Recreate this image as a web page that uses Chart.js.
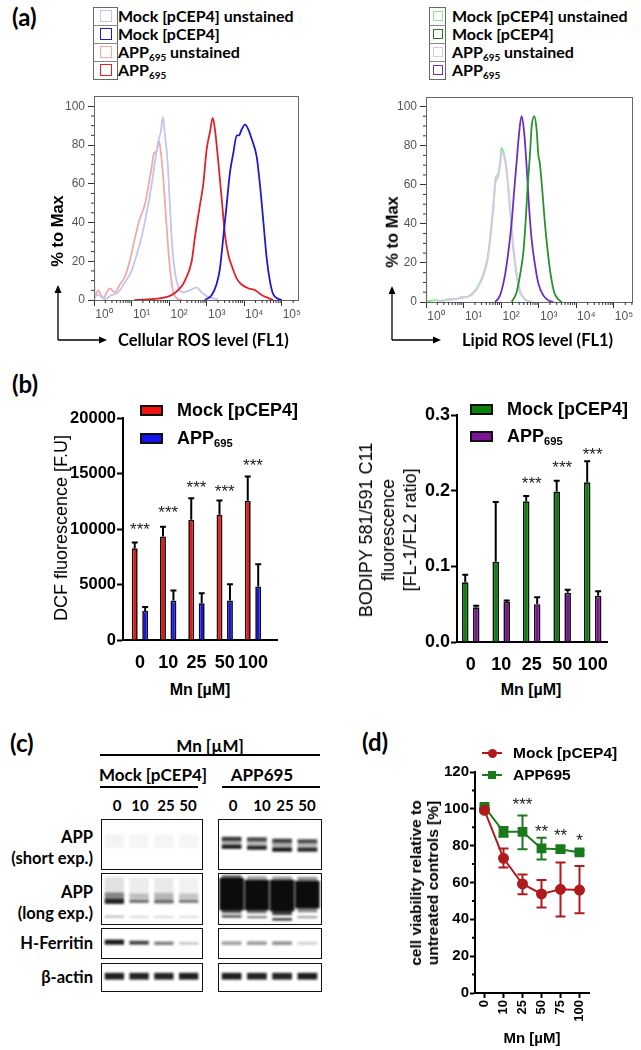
<!DOCTYPE html>
<html>
<head>
<meta charset="utf-8">
<title>ROS, lipid peroxidation and viability: Mock vs APP695</title>
<script src="https://cdn.jsdelivr.net/npm/chart.js@4.4.1/dist/chart.umd.min.js"></script>
<style>
  html, body { margin: 0; background: #fff; }
  #fig { position: relative; width: 641px; height: 1050px; overflow: hidden; font-family: "Liberation Sans", Arial, sans-serif; color: #000; }
  #fig canvas { position: absolute; }
  .t { position: absolute; white-space: nowrap; line-height: 1; }
  .cal { font-family: Lato, "Liberation Sans", sans-serif; font-weight: 700; }
  .b { font-weight: 700; }
  .t sub { font-size: 62%; vertical-align: -0.3em; line-height: 0; }
  .blot { position: absolute; border: 1.5px solid #111; box-sizing: border-box; overflow: hidden; }
  .blot canvas { left: 0; top: 0; filter: blur(1.2px); }
  .sw { position: absolute; box-sizing: border-box; }
</style>
</head>
<body>
<div id="fig"></div>
<script>
// ---------- (a) flow histograms: x in log10 decades, y in % to max ----------
const decadeLabels = ["10⁰", "10¹", "10²", "10³", "10⁴", "10⁵"];
const pctTicks = [0, 20, 40, 60, 80, 100];

const rosMockStX = [2.95, 3.13, 3.26, 3.35, 3.44, 3.53, 3.62, 3.71, 3.80, 3.86, 3.93, 4.02, 4.11, 4.20, 4.33, 4.42, 4.51, 4.60, 4.69, 4.77, 4.91, 5.0];
const rosMockStY = [0, 2.5, 8, 16, 32, 49, 66, 76, 85, 85, 88, 90.5, 88, 83, 74, 59, 40, 21, 9, 3, 0.5, 0];
const rosAppStX = [1.08, 1.97, 2.33, 2.42, 2.6, 2.69, 2.82, 2.91, 3.0, 3.09, 3.16, 3.22, 3.31, 3.40, 3.49, 3.58, 3.66, 3.80, 3.93, 4.11, 4.29, 4.47, 4.64, 4.77];
const rosAppStY = [0, 1.7, 7, 10, 20, 33, 49, 60, 78, 87, 94, 88, 71, 52, 33, 23, 18, 11, 8, 6, 5, 2.5, 1, 0];
const rosMockUnX = [0, 0.11, 0.29, 0.46, 0.64, 0.82, 1.0, 1.13, 1.26, 1.35, 1.44, 1.53, 1.62, 1.71, 1.78, 1.83, 1.88, 1.96, 2.02, 2.08, 2.15, 2.24, 2.37, 2.55, 2.73, 2.86, 3.0, 3.31];
const rosMockUnY = [2, 2.5, 0.5, 2.5, 4, 9, 15, 23, 32, 40, 49, 59, 71, 82, 87, 94.5, 87, 71, 49, 28, 15, 7, 4, 5, 6.5, 4, 2, 0.3];
const rosAppUnX = [0, 0.01, 0.11, 0.24, 0.42, 0.55, 0.69, 0.82, 0.95, 1.09, 1.22, 1.35, 1.44, 1.53, 1.60, 1.66, 1.73, 1.78, 1.84, 1.90, 1.97, 2.04, 2.11, 2.2, 2.33];
const rosAppUnY = [105, 1, 5, 1, 6, 4, 8, 12, 20, 32, 42, 49, 58, 68, 76, 76.5, 82, 76, 64, 47, 28, 13, 4, 1, 0];

const lipMockStX = [2.28, 2.41, 2.50, 2.59, 2.65, 2.70, 2.77, 2.81, 2.88, 2.94, 2.99, 3.03, 3.09, 3.16, 3.24, 3.32, 3.41, 3.52, 3.61];
const lipMockStY = [0, 5, 13.6, 25.5, 41, 58, 76.7, 89.4, 95, 88.6, 75, 70.7, 58, 41, 25.5, 13.6, 5, 1.4, 0];
const lipAppStX = [1.84, 1.97, 2.10, 2.19, 2.28, 2.35, 2.41, 2.47, 2.54, 2.61, 2.67, 2.74, 2.81, 2.90, 2.99, 3.12, 3.25, 3.39];
const lipAppStY = [0, 3.4, 13.6, 25.5, 41, 58, 71.5, 85, 95, 87, 71.5, 49, 32, 19, 9.4, 3.4, 0.9, 0];
const lipMockUnX = [0, 0.01, 0.06, 0.24, 0.42, 0.59, 0.77, 0.95, 1.08, 1.21, 1.35, 1.48, 1.57, 1.66, 1.73, 1.79, 1.85, 1.92, 1.97, 2.01, 2.07, 2.12, 2.19, 2.26, 2.33, 2.41, 2.50, 2.63, 2.81];
const lipMockUnY = [105, 1, 0.5, 1, 0.5, 1.4, 1.4, 2.5, 2.5, 4, 7, 12, 17, 25.5, 37.5, 49, 63, 65.6, 71.5, 79, 76, 71.5, 58, 41, 25.5, 13.6, 5, 1.4, 0];
const lipAppUnX = [0.3, 0.95, 1.21, 1.35, 1.48, 1.57, 1.66, 1.73, 1.79, 1.85, 1.92, 1.97, 2.02, 2.08, 2.13, 2.20, 2.27, 2.34, 2.42, 2.51, 2.64, 2.82];
const lipAppUnY = [0.5, 2, 3.5, 6.5, 11, 16, 24, 36, 47, 61, 64, 70, 77, 74, 69, 57, 41, 26, 14, 5.5, 1.5, 0];

// ---------- (b) bar charts ----------
const doses = ["0", "10", "25", "50", "100"];
const dcfMock = [8270, 9320, 10830, 11280, 12540];
const dcfMockErr = [8780, 10200, 12780, 12570, 14740];
const dcfApp = [2620, 3550, 3310, 3550, 4810];
const dcfAppErr = [2980, 4450, 4210, 5020, 6830];
const dcfStarText = ["***", "***", "***", "***", "***"];
const dcfStarAt = [10320, 11880, 14140, 13770, 16090];

const bodipyMock = [0.079, 0.106, 0.186, 0.199, 0.211];
const bodipyMockErr = [0.089, 0.185, 0.193, 0.213, 0.239];
const bodipyApp = [0.046, 0.053, 0.050, 0.065, 0.061];
const bodipyAppErr = [0.048, 0.055, 0.059, 0.069, 0.067];
const bodipyStarText = ["", "", "***", "***", "***"];
const bodipyStarAt = [null, null, 0.215, 0.236, 0.254];

// ---------- (c) western blot: band top/bottom as fraction of panel height, ink 0..1 ----------
const lanes = ["0", "10", "25", "50"];
const shortMock = [{ top: [0.30, 0.30, 0.30, 0.30], bottom: [0.58, 0.58, 0.58, 0.58], ink: [0.05, 0.04, 0.04, 0.035] }];
const shortApp = [
  { top: [0.40, 0.41, 0.45, 0.45], bottom: [0.56, 0.57, 0.61, 0.61], ink: [0.35, 0.3, 0.35, 0.3] },
  { top: [0.35, 0.36, 0.39, 0.40], bottom: [0.43, 0.44, 0.47, 0.48], ink: [0.82, 0.75, 0.8, 0.72] },
  { top: [0.52, 0.54, 0.58, 0.58], bottom: [0.60, 0.62, 0.66, 0.66], ink: [0.95, 0.9, 0.97, 0.9] },
];
const longMock = [
  { top: [0.06, 0.08, 0.08, 0.08], bottom: [0.40, 0.40, 0.40, 0.40], ink: [0.12, 0.08, 0.09, 0.06] },
  { top: [0.38, 0.40, 0.39, 0.40], bottom: [0.52, 0.50, 0.51, 0.50], ink: [0.5, 0.28, 0.3, 0.25] },
  { top: [0.51, 0.52, 0.52, 0.52], bottom: [0.61, 0.59, 0.60, 0.59], ink: [0.92, 0.6, 0.62, 0.55] },
  { top: [0.85, 0.86, 0.86, 0.86], bottom: [0.89, 0.89, 0.89, 0.89], ink: [0.3, 0.22, 0.22, 0.2] },
];
const longApp = [
  { top: [0.02, 0.04, 0.05, 0.06], bottom: [0.2, 0.2, 0.2, 0.2], ink: [0.6, 0.35, 0.4, 0.45] },
  { top: [0.08, 0.12, 0.12, 0.14], bottom: [0.74, 0.74, 0.76, 0.70], ink: [1, 1, 1, 1], wide: 0.97 },
  { top: [0.70, 0.70, 0.72, 0.68], bottom: [0.80, 0.80, 0.84, 0.78], ink: [0.7, 0.6, 0.8, 0.5] },
  { top: [0.84, 0.86, 0.90, 0.86], bottom: [0.89, 0.90, 0.95, 0.90], ink: [0.75, 0.6, 0.85, 0.45] },
];
const ferMock = [{ top: [0.38, 0.42, 0.45, 0.47], bottom: [0.56, 0.56, 0.57, 0.56], ink: [0.95, 0.78, 0.55, 0.25] }];
const ferApp = [{ top: [0.44, 0.44, 0.44, 0.46], bottom: [0.57, 0.57, 0.57, 0.56], ink: [0.4, 0.42, 0.45, 0.2] }];
const actinMock = [{ top: [0.34, 0.34, 0.34, 0.34], bottom: [0.60, 0.60, 0.60, 0.60], ink: [0.92, 0.9, 0.9, 0.92] }];
const actinApp = [{ top: [0.34, 0.34, 0.34, 0.34], bottom: [0.60, 0.60, 0.60, 0.60], ink: [0.92, 0.9, 0.9, 0.92] }];

// ---------- (d) viability ----------
const viaDoses = ["0", "10", "25", "50", "75", "100"];
const viaMock = [99.2, 73.1, 59.2, 53.8, 56.3, 55.9];
const viaMockHi = [100.5, 78.5, 64.4, 61.4, 70.9, 68.9];
const viaMockLo = [98, 68.2, 53.6, 46.4, 41.5, 43.3];
const viaApp = [101.1, 87.5, 87.5, 78.5, 78.1, 76.3];
const viaAppHi = [102, 90.2, 96.4, 84.3, 79.8, 77.5];
const viaAppLo = [100, 84.8, 78.0, 72.5, 76.4, 75.1];
const viaStarText = ["", "", "***", "**", "**", "*"];
const viaStarAt = [null, null, 105, 90, 88, 85.4];

// ---------- setup ----------
Chart.defaults.animation = false;
Chart.defaults.responsive = false;
Chart.defaults.devicePixelRatio = 1;
Chart.defaults.font.family = '"Liberation Sans", Arial, sans-serif';
Chart.defaults.color = "#000";
Chart.defaults.plugins.legend.display = false;
Chart.defaults.plugins.tooltip.enabled = false;

const fig = document.getElementById("fig");

// error bars, significance stars, minor ticks and frame box
const extras = {
  id: "extras",
  beforeDatasetsDraw(chart, args, opts) {
    const ctx = chart.ctx;
    const ys = chart.scales.y;
    chart.data.datasets.forEach((ds, di) => {
      if (!ds.errHi) return;
      const meta = chart.getDatasetMeta(di);
      ctx.save();
      ctx.strokeStyle = ds.errColor || ds.borderColor;
      ctx.lineWidth = opts.errWidth || 2;
      meta.data.forEach((el, i) => {
        const hi = ys.getPixelForValue(ds.errHi[i]);
        const lo = ds.errLo ? ys.getPixelForValue(ds.errLo[i]) : el.y;
        const cap = opts.cap || el.width;
        ctx.beginPath();
        ctx.moveTo(el.x, lo);
        ctx.lineTo(el.x, hi);
        ctx.moveTo(el.x - cap / 2, hi);
        ctx.lineTo(el.x + cap / 2, hi);
        if (ds.errLo) {
          ctx.moveTo(el.x - cap / 2, lo);
          ctx.lineTo(el.x + cap / 2, lo);
        }
        ctx.stroke();
      });
      ctx.restore();
    });
  },
  afterDraw(chart, args, opts) {
    const ctx = chart.ctx;
    const a = chart.chartArea;
    ctx.save();
    if (opts.frame) {
      ctx.strokeStyle = opts.frame;
      ctx.lineWidth = 1;
      ctx.strokeRect(Math.round(a.left) + 0.5, Math.round(a.top) + 0.5, Math.round(a.right - a.left), Math.round(a.bottom - a.top));
    }
    if (opts.minor) {
      const m = opts.minor;
      ctx.strokeStyle = m.color || "#000";
      ctx.lineWidth = m.width || 1;
      ctx.beginPath();
      (m.y || []).forEach((v) => {
        const p = chart.scales.y.getPixelForValue(v);
        ctx.moveTo(a.left - m.len, p);
        ctx.lineTo(a.left, p);
      });
      (m.x || []).forEach((v) => {
        const p = chart.scales.x.getPixelForValue(v);
        ctx.moveTo(p, a.bottom);
        ctx.lineTo(p, a.bottom + m.len);
      });
      ctx.stroke();
    }
    if (opts.stars) {
      const s = opts.stars;
      ctx.fillStyle = "#222";
      ctx.font = `${s.size}px "Liberation Sans", Arial, sans-serif`;
      ctx.textAlign = "center";
      ctx.textBaseline = "alphabetic";
      s.at.forEach((v, i) => {
        if (v == null) return;
        const x = chart.scales.x.getPixelForValue(i);
        const y = chart.scales.y.getPixelForValue(v);
        ctx.fillText(s.text[i], x, y + 0.59 * s.size);
      });
    }
    ctx.restore();
  },
};
Chart.register(extras);

function canvasFor(area, box) {
  const c = document.createElement("canvas");
  c.width = Math.round(area.r - area.l + box.yW + box.right);
  c.height = Math.round(area.b - area.t + box.top + box.xH);
  c.style.left = area.l - box.yW + "px";
  c.style.top = area.t - box.top + "px";
  fig.appendChild(c);
  return c;
}

function layoutFor(box) {
  return { padding: { top: box.top, right: box.right, left: 0, bottom: 0 } };
}

function put(html, x, y, o = {}) {
  const d = document.createElement("div");
  d.className = "t " + (o.cls || "");
  d.innerHTML = html;
  d.style.left = x + "px";
  d.style.top = y + "px";
  if (o.size) d.style.fontSize = o.size + "px";
  if (o.style) Object.assign(d.style, o.style);
  const ax = { l: "0", c: "-50%", r: "-100%" }[o.anchor || "c"];
  d.style.transform = `translate(${ax}, -50%)` + (o.rot ? ` rotate(${o.rot}deg)` : "");
  fig.appendChild(d);
  return d;
}

function swatch(x, y, w, h, style) {
  const d = document.createElement("div");
  d.className = "sw";
  Object.assign(d.style, { left: x + "px", top: y + "px", width: w + "px", height: h + "px" }, style);
  fig.appendChild(d);
  return d;
}

// ---------- (a) histograms ----------
function minorDecades(xMax) {
  const out = [];
  for (let d = 0; d <= 5; d++) {
    for (let k = 2; k <= 9; k++) {
      const v = d + Math.log10(k);
      if (v < xMax) out.push(v);
    }
  }
  return out;
}

function histogram(area, xMax, yMax, series) {
  const box = { yW: 40, xH: 30, top: 10, right: 9 };
  return new Chart(canvasFor(area, box), {
    type: "scatter",
    data: {
      datasets: series.map((s) => ({
        data: s.x.map((v, i) => ({ x: v, y: s.y[i] })),
        borderColor: s.color,
        borderWidth: 1.8,
        showLine: true,
        pointRadius: 0,
        cubicInterpolationMode: "monotone",
      })),
    },
    options: {
      layout: layoutFor(box),
      scales: {
        x: {
          type: "linear",
          min: 0,
          max: xMax,
          afterFit: (s) => { s.height = box.xH; },
          afterBuildTicks: (s) => { s.ticks = decadeLabels.map((_, i) => ({ value: i })); },
          ticks: { callback: (v) => decadeLabels[v], color: "#555", font: { size: 12 }, maxRotation: 0, autoSkip: false, labelOffset: 10, padding: 1 },
          grid: { drawOnChartArea: false, tickLength: 6, tickColor: "#333" },
          border: { color: "#555" },
        },
        y: {
          min: 0,
          max: yMax,
          afterFit: (s) => { s.width = box.yW; },
          afterBuildTicks: (s) => { s.ticks = pctTicks.map((v) => ({ value: v })); },
          ticks: { color: "#555", font: { size: 12 }, padding: 3 },
          grid: { drawOnChartArea: false, tickLength: 6, tickColor: "#333" },
          border: { color: "#555" },
        },
      },
      plugins: {
        extras: {
          frame: "#666",
          minor: { x: minorDecades(xMax), y: [5, 10, 15, 25, 30, 35, 45, 50, 55, 65, 70, 75, 85, 90, 95], len: 3, color: "#333" },
        },
      },
    },
  });
}

histogram({ l: 94, r: 298, t: 96, b: 300 }, 5.43, 105.2, [
  { x: rosMockStX, y: rosMockStY, color: "#1c1ccc" },
  { x: rosAppStX, y: rosAppStY, color: "#e0222a" },
  { x: rosMockUnX, y: rosMockUnY, color: "#c4c4f0" },
  { x: rosAppUnX, y: rosAppUnY, color: "#f2aaa8" },
]);
histogram({ l: 426, r: 632, t: 97, b: 302 }, 5.48, 104.75, [
  { x: lipMockStX, y: lipMockStY, color: "#2a922a" },
  { x: lipAppStX, y: lipAppStY, color: "#6a2ec4" },
  { x: lipAppUnX, y: lipAppUnY, color: "#dcc6f0" },
  { x: lipMockUnX, y: lipMockUnY, color: "#8ee88a" },
]);

// ---------- (b) bar charts ----------
function barChart(area, cfg) {
  const box = { yW: cfg.yW, xH: 36, top: 12, right: 10 };
  return new Chart(canvasFor(area, box), {
    type: "bar",
    data: {
      datasets: cfg.series.map((s) => ({
        data: doses.map((_, i) => ({ x: i, y: s.values[i] })),
        errHi: s.err,
        errColor: "#000",
        backgroundColor: s.color,
        borderColor: "#111",
        borderWidth: 1.7,
        categoryPercentage: cfg.catPct,
        barPercentage: cfg.barPct,
      })),
    },
    options: {
      layout: layoutFor(box),
      scales: {
        x: {
          type: "linear",
          min: cfg.xMin,
          max: cfg.xMax,
          offset: false,
          afterFit: (s) => { s.height = box.xH; },
          afterBuildTicks: (s) => { s.ticks = doses.map((_, i) => ({ value: i })); },
          ticks: { callback: (v) => doses[v], font: { size: 18, weight: "bold" }, maxRotation: 0, autoSkip: false, padding: 4 },
          grid: { display: false },
          border: { color: "#000", width: 2 },
        },
        y: {
          min: 0,
          max: cfg.yMax,
          afterFit: (s) => { s.width = box.yW; },
          ticks: { stepSize: cfg.yStep, font: { size: cfg.yFont, weight: "bold" }, padding: 1, callback: cfg.yFmt },
          grid: { drawOnChartArea: false, tickLength: 6, tickColor: "#000", tickWidth: 2 },
          border: { color: "#000", width: 2 },
        },
      },
      plugins: {
        extras: { cap: 6, errWidth: 2, stars: { text: cfg.starText, at: cfg.starAt, size: 17 } },
      },
    },
  });
}

barChart({ l: 123, r: 277, t: 418, b: 640 }, {
  yW: 70, yMax: 20000, yStep: 5000, yFont: 16.5, yFmt: (v) => String(v),
  xMin: -0.6, xMax: 4.85, catPct: 0.74, barPct: 0.57,
  series: [
    { values: dcfMock, err: dcfMockErr, color: "#f01414" },
    { values: dcfApp, err: dcfAppErr, color: "#1414f0" },
  ],
  starText: dcfStarText, starAt: dcfStarAt,
});
barChart({ l: 457, r: 607, t: 415, b: 642 }, {
  yW: 50, yMax: 0.3, yStep: 0.1, yFont: 18, yFmt: (v) => v.toFixed(1),
  xMin: -0.45, xMax: 4.47, catPct: 0.72, barPct: 0.6,
  series: [
    { values: bodipyMock, err: bodipyMockErr, color: "#0e800e" },
    { values: bodipyApp, err: bodipyAppErr, color: "#7c1496" },
  ],
  starText: bodipyStarText, starAt: bodipyStarAt,
});

// ---------- (c) blots ----------
function blot(x, y, w, h, bands) {
  const wrap = document.createElement("div");
  wrap.className = "blot";
  Object.assign(wrap.style, { left: x + "px", top: y + "px", width: w + "px", height: h + "px" });
  const c = document.createElement("canvas");
  c.width = w - 3;
  c.height = h - 3;
  wrap.appendChild(c);
  fig.appendChild(wrap);
  new Chart(c, {
    type: "bar",
    data: {
      labels: lanes,
      datasets: bands.map((b) => ({
        data: lanes.map((_, i) => [b.top[i], b.bottom[i]]),
        backgroundColor: b.ink.map((k) => `rgba(12,12,12,${k})`),
        borderWidth: 0,
        grouped: false,
        categoryPercentage: 1,
        barPercentage: b.wide || 0.78,
      })),
    },
    options: {
      layout: { padding: 0 },
      scales: {
        x: { display: false },
        y: { display: false, min: 0, max: 1, reverse: true },
      },
    },
  });
}

const blotRows = [[819, 51, shortMock, shortApp], [873, 52, longMock, longApp], [928, 31, ferMock, ferApp], [963, 29, actinMock, actinApp]];
blotRows.forEach(([top, h, mock, app]) => {
  blot(101, top, 102, h, mock);
  blot(218, top, 104, h, app);
});

// ---------- (d) viability ----------
(function () {
  const area = { l: 475, r: 589, t: 772, b: 993 };
  const box = { yW: 45, xH: 40, top: 12, right: 10 };
  new Chart(canvasFor(area, box), {
    type: "line",
    data: {
      labels: viaDoses,
      datasets: [
        { data: viaMock, errHi: viaMockHi, errLo: viaMockLo, borderColor: "#b01a1c", backgroundColor: "#b01a1c", pointStyle: "circle", pointRadius: 4.5, borderWidth: 2 },
        { data: viaApp, errHi: viaAppHi, errLo: viaAppLo, borderColor: "#1b7a1b", backgroundColor: "#1b7a1b", pointStyle: "rect", pointRadius: 5.5, borderWidth: 2 },
      ],
    },
    options: {
      layout: layoutFor(box),
      scales: {
        x: {
          offset: true,
          afterFit: (s) => { s.height = box.xH; },
          ticks: { minRotation: 90, maxRotation: 90, font: { size: 13, weight: "bold" }, padding: 2, autoSkip: false },
          grid: { drawOnChartArea: false, tickLength: 5, tickColor: "#000", tickWidth: 2 },
          border: { color: "#000", width: 2 },
        },
        y: {
          min: 0,
          max: 120,
          afterFit: (s) => { s.width = box.yW; },
          ticks: { stepSize: 20, font: { size: 15, weight: "bold" }, padding: 1 },
          grid: { drawOnChartArea: false, tickLength: 5, tickColor: "#000", tickWidth: 2 },
          border: { color: "#000", width: 2 },
        },
      },
      plugins: {
        extras: {
          cap: 10,
          errWidth: 2,
          minor: { y: [10, 30, 50, 70, 90, 110], len: 3, width: 2 },
          stars: { text: viaStarText, at: viaStarAt, size: 17 },
        },
      },
    },
  });
})();

// ---------- text, legends, arrows ----------
put("(a)", 12, 17, { cls: "cal", size: 24, anchor: "l" });
put("(b)", 12, 384, { cls: "cal", size: 24, anchor: "l" });
put("(c)", 10, 743, { cls: "cal", size: 24, anchor: "l" });
put("(d)", 362, 742, { cls: "cal", size: 24, anchor: "l" });

// (a) legends
const legRows = [16, 34, 52, 70];
function flowLegend(x, w, sq, colors, textX) {
  swatch(x, 7, w, 73, { border: "1px solid #666" });
  legRows.slice(1).forEach((r) => swatch(x, r - 9, w, 1, { background: "#888" }));
  colors.forEach((c, i) => swatch(x + (w - sq) / 2, legRows[i] - sq / 2, sq, sq, { border: "1.5px solid " + c }));
  const labels = ["Mock [pCEP4] unstained", "Mock [pCEP4]", "APP<sub>695</sub> unstained", "APP<sub>695</sub>"];
  labels.forEach((l, i) => put(l, textX, legRows[i], { cls: "cal", size: 16, anchor: "l" }));
}
flowLegend(93, 25, 12, ["#c4c4f0", "#1c1ccc", "#f2aaa8", "#e0222a"], 118);
flowLegend(429, 17, 10, ["#8ee88a", "#1f7a1f", "#dcc6f0", "#6a2ec4"], 452);

put("% to Max", 57, 231, { cls: "b", size: 16.5, rot: -90 });
put("% to Max", 392, 232, { cls: "b", size: 16.5, rot: -90 });
put("Cellular ROS level (FL1)", 118, 340, { cls: "cal", size: 16.5, anchor: "l" });
put("Lipid ROS level (FL1)", 462, 340, { cls: "cal", size: 16.5, anchor: "l" });

// (b) legends and titles
function barLegend(x, textX, rows) {
  rows.forEach(([y, color, label]) => {
    swatch(x, y - 5, 23, 11, { background: color, border: "2px solid #111" });
    put(label, textX, y, { cls: "b", size: 18, anchor: "l" });
  });
}
barLegend(140, 177, [[410, "#f01414", "Mock [pCEP4]"], [438, "#1414f0", "APP<sub>695</sub>"]]);
barLegend(470, 507, [[409, "#0e800e", "Mock [pCEP4]"], [436, "#7c1496", "APP<sub>695</sub>"]]);
put("DCF fluorescence [F.U]", 61, 528, { size: 18, rot: -90 });
put("BODIPY 581/591 C11<br>fluorescence<br>[FL-1/FL2 ratio]", 388, 530, { size: 18, rot: -90, style: { textAlign: "center", lineHeight: "22px" } });
put("Mn [µM]", 200, 690, { cls: "b", size: 16 });
put("Mn [µM]", 531, 690, { cls: "b", size: 16 });

// (c) labels
put("Mn [µM]", 210, 745, { cls: "cal", size: 17 });
put("Mock [pCEP4]", 153, 774, { cls: "cal", size: 17 });
put("APP695", 262, 774, { cls: "cal", size: 17 });
[[117, "0"], [140, "10"], [166, "25"], [188, "50"], [233, "0"], [262, "10"], [285, "25"], [307, "50"]].forEach(([x, l]) =>
  put(l, x, 805, { cls: "cal", size: 15 }));
[[837, "APP"], [858, "(short exp.)"], [892, "APP"], [913, "(long exp.)"], [943, "H-Ferritin"], [977, "β-actin"]].forEach(([y, l]) =>
  put(l, 93, y, { cls: "cal", size: 16.5, anchor: "r" }));

// (d) legend and titles
swatch(482, 752, 20, 2, { background: "#b01a1c" });
swatch(487.5, 748.5, 9, 9, { background: "#b01a1c", borderRadius: "50%" });
swatch(482, 774, 20, 2, { background: "#1b7a1b" });
swatch(488, 771, 8, 8, { background: "#1b7a1b" });
put("Mock [pCEP4]", 513, 753, { cls: "b", size: 15.5, anchor: "l" });
put("APP695", 513, 775, { cls: "b", size: 15.5, anchor: "l" });
put("cell viability relative to<br>untreated controls [%]", 424, 883, { cls: "b", size: 15.5, rot: -90, style: { textAlign: "center", lineHeight: "17px" } });
put("Mn [µM]", 532, 1037, { cls: "b", size: 15 });

// arrows and underlines
const svgNS = "http://www.w3.org/2000/svg";
const svg = document.createElementNS(svgNS, "svg");
svg.setAttribute("width", "641");
svg.setAttribute("height", "1050");
Object.assign(svg.style, { position: "absolute", left: "0", top: "0" });
function path(d, stroke, width, fill) {
  const p = document.createElementNS(svgNS, "path");
  p.setAttribute("d", d);
  p.setAttribute("stroke", stroke || "none");
  p.setAttribute("stroke-width", width || 0);
  p.setAttribute("fill", fill || "none");
  svg.appendChild(p);
}
function elbowArrow(x, y, topY, rightX) {
  path(`M${x} ${y} V${topY + 7} M${x} ${y} H${rightX - 7}`, "#000", 1.3);
  path(`M${x} ${topY} L${x - 3.5} ${topY + 8} L${x + 3.5} ${topY + 8} Z`, null, 0, "#000");
  path(`M${rightX} ${y} L${rightX - 8} ${y - 3.5} L${rightX - 8} ${y + 3.5} Z`, null, 0, "#000");
}
elbowArrow(58, 340, 285, 107);
elbowArrow(392, 340, 286, 441);
path("M100 755 H320 M100 787 H198 M222 787 H320", "#000", 2);
fig.appendChild(svg);
</script>
</body>
</html>
